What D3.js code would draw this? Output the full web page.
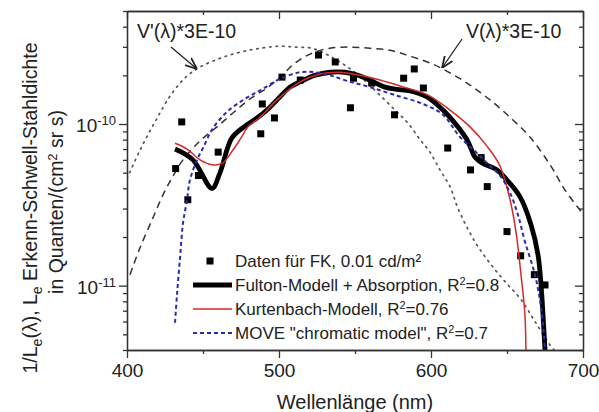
<!DOCTYPE html>
<html>
<head>
<meta charset="utf-8">
<script src="https://cdn.jsdelivr.net/npm/d3@7"></script>
<style>
  body { margin: 0; background: #fff; }
  svg { font-family: "Liberation Sans", Arial, sans-serif; }
  .axis path, .axis line { stroke: #333; stroke-width: 1.3; }
  .axis text { font-size: 19px; fill: #222; font-family: "Liberation Sans", Arial, sans-serif; }
</style>
</head>
<body>
<div id="chart"></div>
<script>
// measured data points (squares)
const dataNm = [432, 436, 440, 447, 460, 488, 489, 497, 502, 514, 526, 537, 547, 549, 561, 576, 582, 589, 595, 611, 626, 633, 637, 650, 659, 668, 675];
const dataVal = [5.3e-11, 1.03e-10, 3.4e-11, 4.8e-11, 6.7e-11, 8.7e-11, 1.33e-10, 1.09e-10, 1.95e-10, 1.87e-10, 2.67e-10, 2.42e-10, 1.26e-10, 1.92e-10, 1.79e-10, 1.14e-10, 1.92e-10, 2.19e-10, 1.67e-10, 7.1e-11, 5.2e-11, 6.2e-11, 4.1e-11, 2.16e-11, 1.53e-11, 1.17e-11, 1.01e-11];

// Fulton-Modell + Absorption
const fultonNm = [431.6, 443.4, 455.9, 461.2, 469, 477.6, 485.5, 492.1, 498.7, 507.2, 513.8, 523.7, 533.6, 543.4, 552, 561.2, 569.7, 577.6, 586.2, 597.4, 605.9, 612.5, 623.7, 628.9, 633.6, 643.4, 650, 658.6, 665.8, 670.4, 672.4, 673.7, 675, 675.5];
const fultonVal = [7.0e-11, 6.0e-11, 4.0e-11, 5.0e-11, 8.2e-11, 9.7e-11, 1.09e-10, 1.22e-10, 1.41e-10, 1.69e-10, 1.82e-10, 2.0e-10, 2.09e-10, 2.09e-10, 2.0e-10, 1.84e-10, 1.69e-10, 1.64e-10, 1.6e-10, 1.47e-10, 1.27e-10, 1.1e-10, 8.0e-11, 6.25e-11, 5.74e-11, 5.2e-11, 4.5e-11, 3.54e-11, 2.38e-11, 1.55e-11, 1.01e-11, 6.6e-12, 4.0e-12, 3.5e-12];

// Kurtenbach-Modell
const kurtNm = [431.6, 439.5, 448, 455.9, 462.5, 469.7, 475, 479.6, 487.5, 498.7, 513.8, 527, 540, 553.3, 566.4, 579.6, 598, 612.5, 625.7, 636.8, 645.4, 652, 655.9, 659.2, 661.8, 662.5];
const kurtVal = [7.6e-11, 7.0e-11, 6.0e-11, 5.6e-11, 5.7e-11, 6.9e-11, 8.2e-11, 9.6e-11, 1.1e-10, 1.41e-10, 1.82e-10, 2.04e-10, 2.09e-10, 2.0e-10, 1.87e-10, 1.72e-10, 1.51e-10, 1.22e-10, 9.6e-11, 7.3e-11, 5.5e-11, 3.4e-11, 2.16e-11, 1.17e-11, 6.6e-12, 3.5e-12];

// MOVE "chromatic model"
const moveNm = [431.6, 432.9, 434.9, 436.8, 439.5, 441.4, 446.1, 450, 455.9, 465.8, 477.6, 488.8, 500.7, 513.8, 523.7, 533.6, 545.4, 559.9, 576.3, 594.7, 607.9, 619.1, 630.3, 638.8, 645.4, 652, 657.2, 661.8, 668.4, 672.4, 675, 675.4];
const moveVal = [5.9e-12, 8.8e-12, 1.49e-11, 2.42e-11, 3.4e-11, 4.5e-11, 6.0e-11, 7.1e-11, 9.2e-11, 1.19e-10, 1.43e-10, 1.64e-10, 1.9e-10, 2.09e-10, 2.09e-10, 2.0e-10, 1.84e-10, 1.69e-10, 1.51e-10, 1.33e-10, 1.14e-10, 8.3e-11, 6.6e-11, 5.5e-11, 4.8e-11, 3.75e-11, 2.74e-11, 1.87e-11, 1.17e-11, 7.3e-12, 4.1e-12, 3.5e-12];

// V(lambda)*3E-10 (dashed)
const vNm = [402, 408.6, 417.1, 423.7, 429.6, 436.8, 448, 459.2, 469.7, 480.9, 492.1, 502, 510.5, 521.7, 533.6, 546.7, 559.9, 573, 586.2, 598, 606.6, 623.7, 638.8, 652, 665.1, 678.3, 688.2, 700];
const vVal = [1.17e-11, 1.72e-11, 2.63e-11, 3.65e-11, 4.64e-11, 6.0e-11, 7.85e-11, 9.6e-11, 1.17e-10, 1.43e-10, 1.67e-10, 2.0e-10, 2.38e-10, 2.74e-10, 2.94e-10, 2.99e-10, 2.94e-10, 2.86e-10, 2.63e-10, 2.41e-10, 2.22e-10, 1.79e-10, 1.41e-10, 1.1e-10, 8.3e-11, 5.6e-11, 3.9e-11, 2.78e-11];

// V'(lambda)*3E-10 (dotted)
const vpNm = [400, 408.6, 418.4, 429.6, 439.5, 448, 461.2, 474.3, 487.5, 500.7, 510.5, 521.7, 532.2, 543.4, 554.6, 565.1, 576.3, 584.9, 592.8, 599.3, 605.9, 612.5, 617.8, 628.9, 639.5, 648.7, 659.2, 668.4, 678.3, 681];
const vpVal = [4.6e-11, 6.9e-11, 1.03e-10, 1.55e-10, 1.98e-10, 2.25e-10, 2.55e-10, 2.78e-10, 2.94e-10, 3.03e-10, 2.99e-10, 2.94e-10, 2.67e-10, 2.31e-10, 1.92e-10, 1.55e-10, 1.22e-10, 1.01e-10, 8.0e-11, 6.7e-11, 5.2e-11, 4.1e-11, 3.0e-11, 1.87e-11, 1.35e-11, 1.06e-11, 8.2e-12, 6.0e-12, 4.3e-12, 4.0e-12];

const xMajor = [400, 500, 600, 700];
const xMinor = [450, 550, 650];
const yMajor = [1e-11, 1e-10];
const yMinor = [4e-12, 5e-12, 6e-12, 7e-12, 8e-12, 9e-12, 2e-11, 3e-11, 4e-11, 5e-11, 6e-11, 7e-11, 8e-11, 9e-11, 2e-10, 3e-10, 4e-10, 5e-10];

const width = 599, height = 412;
const plot = { left: 127, right: 583, top: 11, bottom: 350 };

const svg = d3.select("#chart").append("svg")
    .attr("width", width)
    .attr("height", height);

const x = d3.scaleLinear().domain([400, 700]).range([plot.left, plot.right]);
const y = d3.scaleLog().domain([4e-12, 5e-10]).range([plot.bottom, plot.top]);

svg.append("clipPath").attr("id", "clip")
  .append("rect")
    .attr("x", plot.left).attr("y", plot.top)
    .attr("width", plot.right - plot.left).attr("height", plot.bottom - plot.top);

const zip = (a, b) => a.map((d, i) => [d, b[i]]);
const line = d3.line()
    .x(d => x(d[0]))
    .y(d => y(d[1]))
    .curve(d3.curveCatmullRom.alpha(0.5));

const curves = svg.append("g").attr("clip-path", "url(#clip)");

// reference curves
curves.append("path")
    .attr("d", line(zip(vpNm, vpVal)))
    .attr("fill", "none").attr("stroke", "#555").attr("stroke-width", 1.7)
    .attr("stroke-dasharray", "1.5,5").attr("stroke-linecap", "round");

curves.append("path")
    .attr("d", line(zip(vNm, vVal)))
    .attr("fill", "none").attr("stroke", "#333").attr("stroke-width", 1.5)
    .attr("stroke-dasharray", "7,5");

// data squares
curves.selectAll(".pt")
  .data(zip(dataNm, dataVal))
  .join("rect")
    .attr("class", "pt")
    .attr("x", d => x(d[0]) - 3.5)
    .attr("y", d => y(d[1]) - 3.5)
    .attr("width", 7).attr("height", 7)
    .attr("fill", "#000");

// model curves
curves.append("path")
    .attr("d", line(zip(fultonNm, fultonVal)))
    .attr("fill", "none").attr("stroke", "#000").attr("stroke-width", 4.8)
    .attr("stroke-linejoin", "round");

curves.append("path")
    .attr("d", line(zip(kurtNm, kurtVal)))
    .attr("fill", "none").attr("stroke", "#d42a2a").attr("stroke-width", 1.5);

curves.append("path")
    .attr("d", line(zip(moveNm, moveVal)))
    .attr("fill", "none").attr("stroke", "#2a2ab4").attr("stroke-width", 2)
    .attr("stroke-dasharray", "4,3");

// axes
svg.append("g").attr("class", "axis")
    .attr("transform", `translate(0,${plot.bottom})`)
    .call(d3.axisBottom(x).tickValues(xMajor).tickSize(8).tickSizeOuter(0).tickPadding(6).tickFormat(d3.format("d")));
svg.append("g").attr("class", "axis")
    .attr("transform", `translate(0,${plot.bottom})`)
    .call(d3.axisBottom(x).tickValues(xMinor).tickSize(4).tickSizeOuter(0).tickFormat(""));
svg.append("g").attr("class", "axis")
    .attr("transform", `translate(0,${plot.top})`)
    .call(d3.axisBottom(x).tickValues(xMajor).tickSize(8).tickSizeOuter(0).tickFormat(""));
svg.append("g").attr("class", "axis")
    .attr("transform", `translate(0,${plot.top})`)
    .call(d3.axisBottom(x).tickValues(xMinor).tickSize(4).tickSizeOuter(0).tickFormat(""));

const leftAxis = svg.append("g").attr("class", "axis")
    .attr("transform", `translate(${plot.left},0)`)
    .call(d3.axisLeft(y).tickValues(yMajor).tickSize(8).tickSizeOuter(0).tickPadding(3).tickFormat(""));
leftAxis.selectAll(".tick text")
    .attr("dy", "0.42em")
    .each(function(d) {
      const t = d3.select(this);
      t.append("tspan").text("10");
      t.append("tspan").attr("dy", "-0.55em").style("font-size", "13px").text(Math.round(Math.log10(d)));
    });
svg.append("g").attr("class", "axis")
    .attr("transform", `translate(${plot.left},0)`)
    .call(d3.axisLeft(y).tickValues(yMinor).tickSize(4).tickSizeOuter(0).tickFormat(""));
svg.append("g").attr("class", "axis")
    .attr("transform", `translate(${plot.right},0)`)
    .call(d3.axisLeft(y).tickValues(yMajor).tickSize(8).tickSizeOuter(0).tickFormat(""));
svg.append("g").attr("class", "axis")
    .attr("transform", `translate(${plot.right},0)`)
    .call(d3.axisLeft(y).tickValues(yMinor).tickSize(4).tickSizeOuter(0).tickFormat(""));

// axis titles
svg.append("text")
    .attr("x", (plot.left + plot.right) / 2).attr("y", 409)
    .attr("text-anchor", "middle")
    .style("font-size", "20px").attr("fill", "#222")
    .text("Wellenlänge (nm)");

const yTitle1 = svg.append("text")
    .attr("transform", "translate(37,208) rotate(-90)")
    .attr("text-anchor", "middle")
    .style("font-size", "19.5px").attr("fill", "#222");
yTitle1.append("tspan").text("1/L");
yTitle1.append("tspan").attr("dy", 5).style("font-size", "14px").text("e");
yTitle1.append("tspan").attr("dy", -5).text("(λ), L");
yTitle1.append("tspan").attr("dy", 5).style("font-size", "14px").text("e");
yTitle1.append("tspan").attr("dy", -5).text(" Erkenn-Schwell-Stahldichte");

const yTitle2 = svg.append("text")
    .attr("transform", "translate(63,202) rotate(-90)")
    .attr("text-anchor", "middle")
    .style("font-size", "19.5px").attr("fill", "#222");
yTitle2.append("tspan").text("in Quanten/(cm");
yTitle2.append("tspan").attr("dy", -6).style("font-size", "13px").text("2");
yTitle2.append("tspan").attr("dy", 6).text(" sr s)");

// annotations with arrows
svg.append("defs").append("marker")
    .attr("id", "arrow")
    .attr("viewBox", "0 0 10 10").attr("refX", 10).attr("refY", 5)
    .attr("markerWidth", 9).attr("markerHeight", 9)
    .attr("orient", "auto-start-reverse")
  .append("path").attr("d", "M0,1 L10,5 L0,9").attr("fill", "none").attr("stroke", "#222").attr("stroke-width", 1.5);

svg.append("text")
    .attr("x", 137).attr("y", 38)
    .style("font-size", "19.5px").attr("fill", "#222")
    .text("V'(λ)*3E-10");
svg.append("line")
    .attr("x1", 171).attr("y1", 47).attr("x2", 197).attr("y2", 69)
    .attr("stroke", "#222").attr("stroke-width", 1.3)
    .attr("marker-end", "url(#arrow)");

svg.append("text")
    .attr("x", 466).attr("y", 38)
    .style("font-size", "19.5px").attr("fill", "#222")
    .text("V(λ)*3E-10");
svg.append("line")
    .attr("x1", 462).attr("y1", 39).attr("x2", 442).attr("y2", 68)
    .attr("stroke", "#222").attr("stroke-width", 1.3)
    .attr("marker-end", "url(#arrow)");

// legend
const legend = svg.append("g").style("font-size", "17px").attr("fill", "#222");
const legY = [261, 285, 309, 333];
legend.append("rect").attr("x", 206.5).attr("y", legY[0] - 3.5).attr("width", 7).attr("height", 7).attr("fill", "#000");
legend.append("line").attr("x1", 193).attr("x2", 232).attr("y1", legY[1]).attr("y2", legY[1])
    .attr("stroke", "#000").attr("stroke-width", 4.8);
legend.append("line").attr("x1", 193).attr("x2", 232).attr("y1", legY[2]).attr("y2", legY[2])
    .attr("stroke", "#d42a2a").attr("stroke-width", 1.5);
legend.append("line").attr("x1", 193).attr("x2", 232).attr("y1", legY[3]).attr("y2", legY[3])
    .attr("stroke", "#2a2ab4").attr("stroke-width", 2).attr("stroke-dasharray", "4,3");

const legendText = [
  ["Daten für FK, 0.01 cd/m²", null, null],
  ["Fulton-Modell + Absorption, R", "2", "=0.8"],
  ["Kurtenbach-Modell, R", "2", "=0.76"],
  ["MOVE \"chromatic model\", R", "2", "=0.7"]
];
legendText.forEach((t, i) => {
  const txt = legend.append("text").attr("x", 235).attr("y", legY[i] + 6);
  txt.append("tspan").text(t[0]);
  if (t[1]) {
    txt.append("tspan").attr("dy", -6).style("font-size", "11px").text(t[1]);
    txt.append("tspan").attr("dy", 6).text(t[2]);
  }
});
</script>
</body>
</html>
